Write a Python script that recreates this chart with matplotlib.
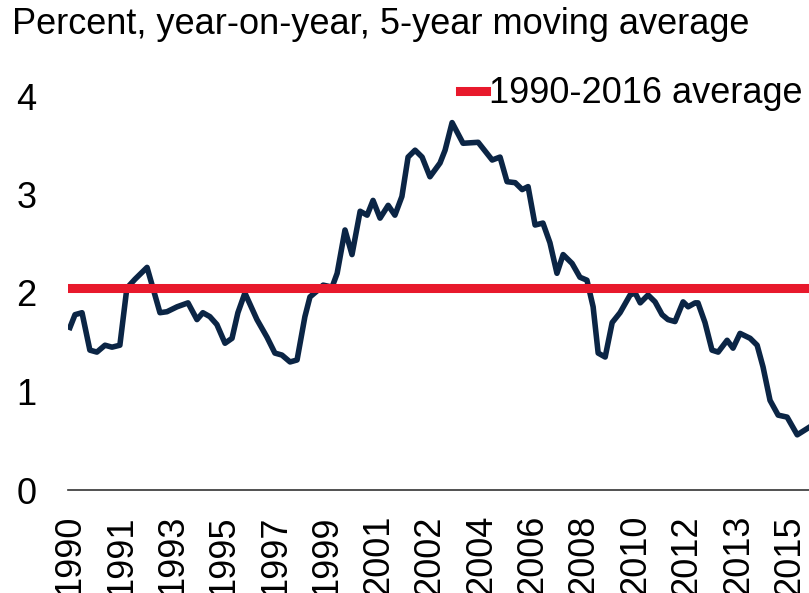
import numpy as np
import matplotlib
matplotlib.use("Agg")
import matplotlib.pyplot as plt

# 5-year moving average, year-on-year percent
years = [1990.00, 1990.18, 1990.43, 1990.71, 1990.96, 1991.25, 1991.50, 1991.78,
         1992.03, 1992.32, 1992.75, 1993.21, 1993.46, 1993.82, 1994.21, 1994.53,
         1994.74, 1994.99, 1995.24, 1995.53, 1995.78, 1995.99, 1996.24, 1996.67,
         1997.03, 1997.31, 1997.56, 1997.85, 1998.10, 1998.38, 1998.56, 1998.85,
         1999.03, 1999.35, 1999.53, 1999.81, 2000.06, 2000.35, 2000.60, 2000.81,
         2001.06, 2001.35, 2001.59, 2001.84, 2002.06, 2002.31, 2002.56, 2002.84,
         2003.20, 2003.38, 2003.63, 2004.02, 2004.56, 2005.06, 2005.34, 2005.59,
         2005.88, 2006.13, 2006.34, 2006.59, 2006.87, 2007.12, 2007.37, 2007.59,
         2007.91, 2008.19, 2008.44, 2008.66, 2008.84, 2009.09, 2009.34, 2009.62,
         2009.98, 2010.16, 2010.34, 2010.62, 2010.87, 2011.12, 2011.33, 2011.58,
         2011.87, 2012.05, 2012.30, 2012.40, 2012.65, 2012.90, 2013.12, 2013.44,
         2013.65, 2013.90, 2014.26, 2014.51, 2014.72, 2014.97, 2015.26, 2015.58,
         2015.94, 2016.33]
values = [1.65, 1.78, 1.80, 1.42, 1.40, 1.47, 1.45, 1.47,
          2.05, 2.14, 2.26, 1.80, 1.81, 1.86, 1.90, 1.73,
          1.80, 1.76, 1.68, 1.49, 1.54, 1.80, 2.00, 1.73,
          1.55, 1.39, 1.37, 1.30, 1.32, 1.76, 1.96, 2.03,
          2.08, 2.06, 2.20, 2.64, 2.39, 2.83, 2.79, 2.94,
          2.76, 2.89, 2.79, 2.98, 3.38, 3.45, 3.38, 3.18,
          3.32, 3.45, 3.73, 3.52, 3.53, 3.35, 3.38, 3.13,
          3.12, 3.05, 3.08, 2.69, 2.71, 2.51, 2.20, 2.39,
          2.30, 2.16, 2.13, 1.86, 1.39, 1.35, 1.70, 1.80,
          1.98, 2.00, 1.90, 1.98, 1.91, 1.78, 1.73, 1.71,
          1.91, 1.86, 1.90, 1.90, 1.70, 1.42, 1.40, 1.52,
          1.44, 1.59, 1.54, 1.47, 1.25, 0.91, 0.76, 0.74,
          0.56, 0.63]
average = 2.05

tick_labels = ["1990", "1991", "1993", "1995", "1997", "1999", "2001", "2002",
               "2004", "2006", "2008", "2010", "2012", "2013", "2015"]

plt.rcParams['font.family'] = ['Liberation Sans', 'DejaVu Sans']
fs = 26

W, H = 809, 593
fig = plt.figure(figsize=(W / 100, H / 100), dpi=100)
ax = fig.add_axes([68 / W, 1 - 490 / H, 1 - 68 / W, (490 - 96) / H])

navy = '#0b2545'
red = '#e8192c'

ax.plot(years, values, color=navy, lw=4.0, solid_joinstyle='round', zorder=2)
ax.axhline(average, color=red, lw=6.5, zorder=3, label='1990-2016 average')

ax.set_xlim(1989.93, 2016.36)
ax.set_ylim(0, 4)

# labels every 22 months on a category-like axis
tick_pos = 1990 + np.arange(len(tick_labels)) * 22 / 12
ax.set_xticks(tick_pos)
ax.set_xticklabels(tick_labels, rotation=90, fontsize=fs, va='top')
ax.set_yticks([0, 1, 2, 3, 4])
ax.set_yticklabels(['0', '1', '2', '3', '4'], fontsize=fs)
ax.tick_params(axis='x', length=0, pad=18)
ax.tick_params(axis='y', length=0, pad=37)
for lbl in ax.get_yticklabels():
    lbl.set_horizontalalignment('left')

for s in ['top', 'right', 'left']:
    ax.spines[s].set_visible(False)
ax.spines['bottom'].set_color('#333333')
ax.spines['bottom'].set_linewidth(1.2)

fig.text(12 / W, 1 - 7 / H, 'Percent, year-on-year, 5-year moving average',
         fontsize=fs, ha='left', va='top')

fig.legend(loc='upper right', bbox_to_anchor=(1.01, 1 - 62 / H), frameon=False,
           fontsize=fs, handlelength=0.7, handletextpad=0.1, borderaxespad=0)

fig.savefig('out.png', dpi=100)
